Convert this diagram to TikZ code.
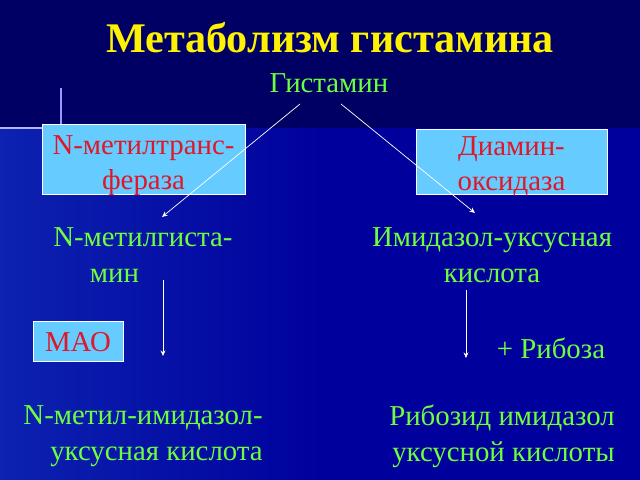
\documentclass[tikz,border=0pt]{standalone}
\usepackage{fontspec}
\setmainfont{Liberation Serif}
\usetikzlibrary{arrows.meta}
\definecolor{bandblue}{RGB}{0,0,100}
\definecolor{deepblue}{RGB}{0,0,156}
\definecolor{lightblue}{RGB}{12,34,176}
\definecolor{boxblue}{RGB}{102,204,255}
\definecolor{leafgreen}{RGB}{110,255,60}
\definecolor{enzred}{RGB}{222,24,40}
\tikzset{
  enzbox/.style={draw=white, line width=0.6pt, fill=boxblue, inner sep=0pt},
  enztext/.style={text=enzred, align=center, font=\rmfamily\fontsize{20.5}{25}\selectfont},
  chem/.style={text=leafgreen, font=\rmfamily\fontsize{20.5}{25.6}\selectfont},
  react/.style={draw=white, line width=0.5pt, -{Stealth[length=4pt,width=3.5pt]}}
}

\begin{document}
\begin{tikzpicture}[x=0.025cm, y=-0.025cm]
		%%%%% START %%%%%
		
		\useasboundingbox (0, 0) rectangle (640, 480);
		\fill[deepblue] (0, 0) rectangle (640, 480);
		\shade[left color=lightblue, right color=deepblue] (0, 128) rectangle (330, 480);
		\fill[bandblue] (0, 0) rectangle (640, 128);
		
		\draw[line width=0.8pt, color=blue!40!white] (61, 88) -- (61, 128);
		\draw[line width=1pt, color=blue!30!white] (0, 128) -- (42, 128);
		
		\node[text=yellow, font=\rmfamily\fontsize{30}{36}\selectfont\bfseries] (title) at (330, 38) {Метаболизм гистамина};
		\node[chem] (hist) at (329, 83) {Гистамин};
		
		\node[enzbox, minimum width=203*0.025cm, minimum height=70*0.025cm] (nmt) at (143.5, 159) {};
		\node[enztext] (nmtlab) at (143.5, 166) {N-метилтранс-\\фераза};
		\node[enzbox, minimum width=191*0.025cm, minimum height=65*0.025cm] (dao) at (511.5, 161.5) {};
		\node[enztext] (daolab) at (511.5, 166.5) {Диамин-\\оксидаза};
		\node[enzbox, minimum width=90*0.025cm, minimum height=40*0.025cm] (mao) at (78, 341) {};
		\node[enztext] (maolab) at (78, 342) {МАО};
		
		\node[chem, align=left, anchor=west, inner sep=0pt] (nmh) at (53, 255) {N-метилгиста-\\\hspace*{26pt}мин};
		\node[chem, align=center] (iaa) at (492, 255) {Имидазол-уксусная\\кислота};
		\node[chem] (rib) at (551, 348) {+ Рибоза};
		\node[chem, align=right, anchor=east, inner sep=0pt] (mia) at (263, 436) {N-метил-имидазол-\\уксусная кислота};
		\node[chem, align=right, anchor=east, inner sep=0pt] (ria) at (615, 436) {Рибозид имидазол\\уксусной кислоты};
		
		\coordinate (h1) at (300, 104);
		\coordinate (h2) at (341, 104);
		\coordinate (a1) at (162, 217);
		\coordinate (a2) at (475, 213);
		\coordinate (b1) at (163, 280);
		\coordinate (b2) at (163, 356);
		\coordinate (c1) at (466, 290);
		\coordinate (c2) at (466, 358);
		
		\draw[react] (h1) -- (a1);
		\draw[react] (h2) -- (a2);
		\draw[react] (b1) -- (b2);
		\draw[react] (c1) -- (c2);
		
		%%%%% END %%%%%
	\end{tikzpicture}
\end{document}
